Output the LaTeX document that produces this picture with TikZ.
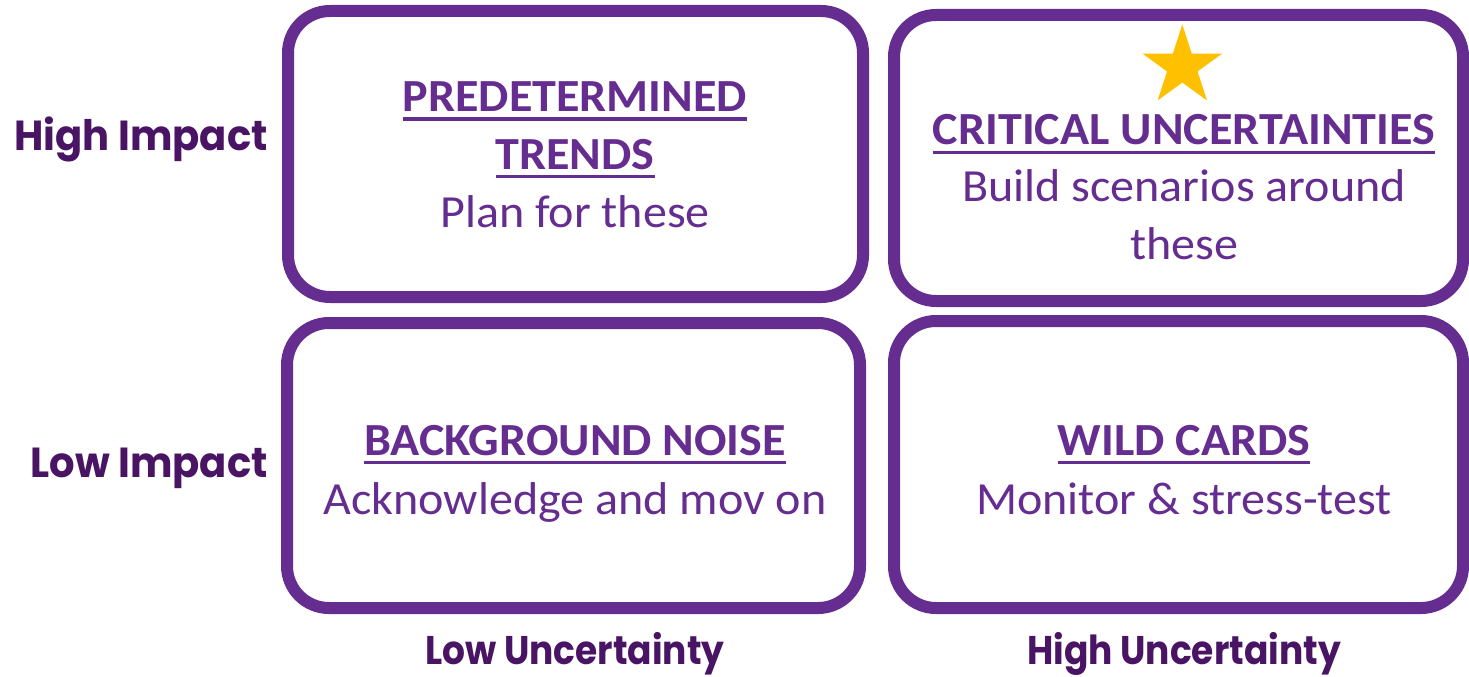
\documentclass[tikz,border=0pt]{standalone}
\usepackage{fontspec}
\usetikzlibrary{shapes.geometric}
\setmainfont{Carlito}[FakeStretch=1.045]
\newfontfamily\sideaxisfont{Poppins}[FakeStretch=0.955]
\newfontfamily\baseaxisfont{Poppins}[FakeStretch=0.9]
\definecolor{quadpurple}{RGB}{101,45,144}
\definecolor{axispurple}{RGB}{74,20,101}
\definecolor{stargold}{RGB}{255,192,0}
% underline with a fixed rule depth and thickness
\newcommand\ulbox[1]{\setbox0=\hbox{#1}\rlap{\raisebox{-9bp}{\rule{\wd0}{3.3bp}}}\box0}
\tikzset{
  quad/.style={draw=quadpurple, line width=12bp, rounded corners=42bp, fill=white, inner sep=0pt},
  headtxt/.style={anchor=base, inner sep=0pt, text=quadpurple, font=\fontsize{46bp}{55bp}\selectfont\bfseries},
  bodytxt/.style={anchor=base, inner sep=0pt, text=quadpurple, font=\fontsize{46bp}{55bp}\selectfont},
  sidetxt/.style={inner sep=0pt, anchor=base east, text=axispurple, font=\sideaxisfont\fontsize{42bp}{50bp}\selectfont\bfseries},
  basetxt/.style={inner sep=0pt, anchor=base, text=axispurple, font=\baseaxisfont\fontsize{40bp}{48bp}\selectfont\bfseries},
}
\begin{document}
\begin{tikzpicture}[x=1bp,y=-1bp]
\useasboundingbox[fill=white] (0,0) rectangle (1469,677);
% the four quadrants
\node[quad, minimum width=575bp, minimum height=286bp] (pt) at (575.5,154) {};
\node[quad, minimum width=569bp, minimum height=286bp] (cu) at (1178.5,158) {};
\node[quad, minimum width=573bp, minimum height=285bp] (bn) at (573.5,465.5) {};
\node[quad, minimum width=569bp, minimum height=287bp] (wc) at (1178.5,464.5) {};
% star marking the critical quadrant
\node[star, star points=5, star point ratio=2.618, minimum size=84bp, inner sep=0pt, fill=stargold] (st) at (1182.3,66.5) {};
% quadrant texts
\node[headtxt] (pt1) at (575,111.7) {\ulbox{PREDETERMINED}};
\node[headtxt] (pt2) at (575,169.3) {\ulbox{TRENDS}};
\node[bodytxt] (pt3) at (575,227) {Plan for these};
\node[headtxt] (cu1) at (1184,145) {\ulbox{CRITICAL UNCERTAINTIES}};
\node[bodytxt] (cu2) at (1184,201.7) {Build scenarios around};
\node[bodytxt] (cu3) at (1184,259) {these};
\node[headtxt] (bn1) at (575,455) {\ulbox{BACKGROUND NOISE}};
\node[bodytxt] (bn2) at (575,514) {Acknowledge and mov on};
\node[headtxt] (wc1) at (1184,455) {\ulbox{WILD CARDS}};
\node[bodytxt] (wc2) at (1184,514) {Monitor \& stress-test};
% axis labels
\node[sidetxt] (hi) at (268,150) {High Impact};
\node[sidetxt] (li) at (268,477) {Low Impact};
\node[basetxt] (lu) at (575,664) {Low Uncertainty};
\node[basetxt] (hu) at (1184,664) {High Uncertainty};
\end{tikzpicture}
\end{document}
